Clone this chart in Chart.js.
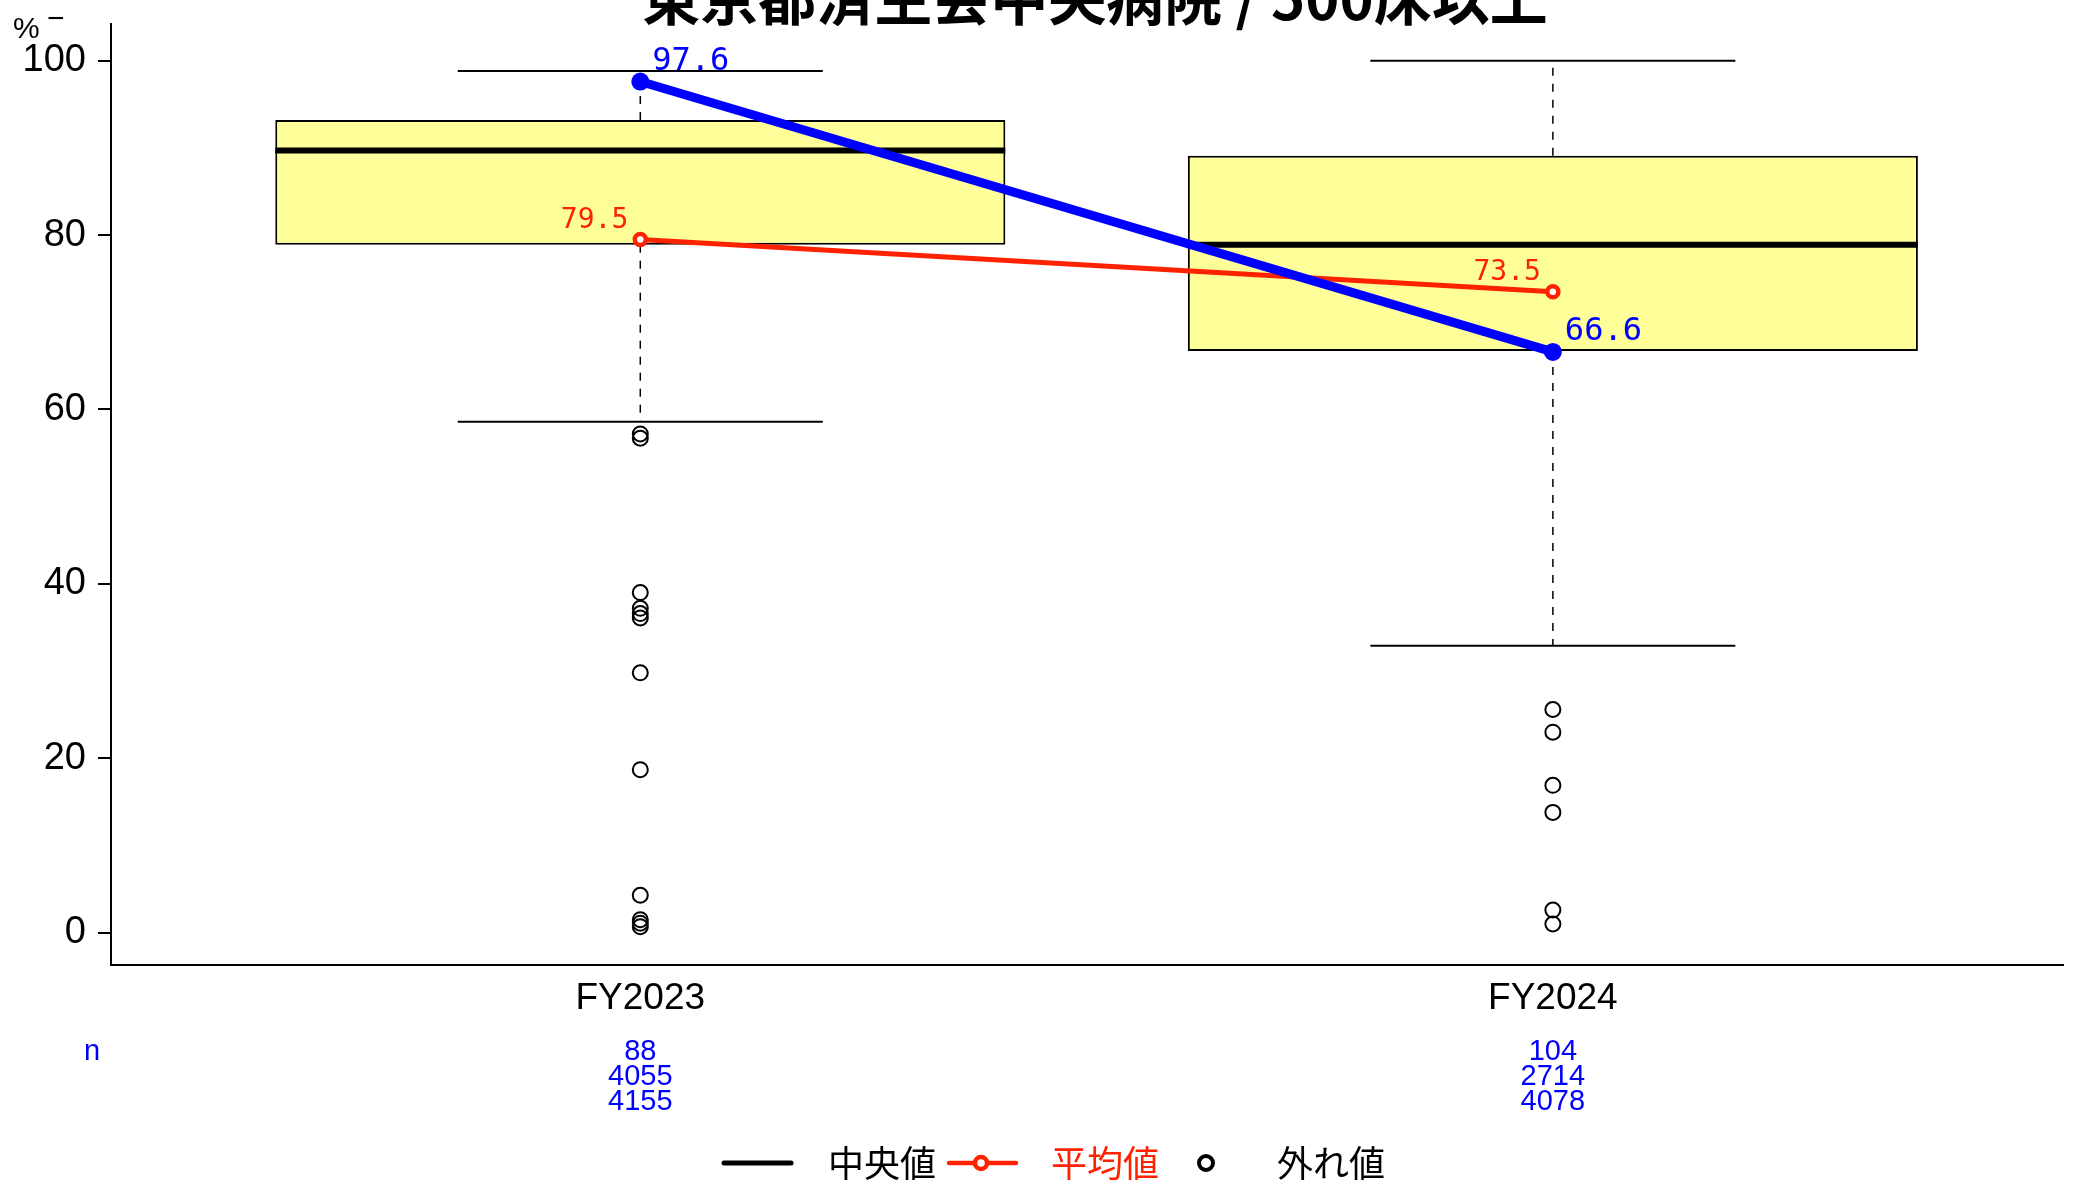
<!DOCTYPE html>
<html>
<head>
<meta charset="utf-8">
<script src="https://cdn.jsdelivr.net/npm/chart.js@4.4.0/dist/chart.umd.min.js"></script>
<style>
  html, body { margin: 0; padding: 0; background: #fff; overflow: hidden; }
  #wrap { width: 2073px; height: 1184px; }
</style>
</head>
<body>
<div id="wrap"><canvas id="chart"></canvas></div>
<script>
// --- data ---
const titleText = '東京都済生会中央病院 / 500床以上';
const categories = ['FY2023', 'FY2024'];
const catPos = [1, 2];
const yTicks = [0, 20, 40, 60, 80, 100];

const whiskerLow = [58.6, 32.9];
const q1 = [78.9, 66.7];
const median = [89.7, 78.9];
const q3 = [93.2, 89.1];
const whiskerHigh = [98.8, 100.0];

const outliers2023 = [57.2, 56.7, 39.0, 37.2, 36.6, 36.1, 29.8, 18.7, 4.3, 1.5, 1.1, 0.7];
const outliers2024 = [25.6, 23.0, 16.9, 13.8, 2.6, 1.0];

const meanValues = [79.5, 73.5];
const hospitalValues = [97.6, 66.6];

const nRow1 = ['88', '104'];
const nRow2 = ['4055', '2714'];
const nRow3 = ['4155', '4078'];

// --- look ---
const BOX_HALF = 0.4;
const CAP_HALF = 0.2;
const SANS = '"Liberation Sans", Arial, sans-serif';
const CJK = '"Noto Sans CJK JP", "Noto Sans", sans-serif';
const MONO = '"DejaVu Sans Mono", monospace';
const RED = '#ff2200';
const BLUE = '#0000ff';

const datasets = [];

// boxes (floating bars q1..q3)
datasets.push({
    type: 'bar',
    data: catPos.map((x, i) => ({ x: x, y: [q1[i], q3[i]] })),
    backgroundColor: '#ffff99',
    borderColor: '#000',
    borderWidth: 2,
    borderSkipped: false,
    barPercentage: 0.8,
    categoryPercentage: 1,
    grouped: false,
    order: 10
});

// medians, whiskers and caps
catPos.forEach((x, i) => {
    const seg = (pts, extra) => Object.assign({
        type: 'line', data: pts, borderColor: '#000', borderWidth: 2,
        pointRadius: 0, fill: false, showLine: true, order: 6
    }, extra || {});
    datasets.push(seg([{ x: x - BOX_HALF, y: median[i] }, { x: x + BOX_HALF, y: median[i] }], { borderWidth: 6, order: 5 }));
    datasets.push(seg([{ x: x, y: q3[i] }, { x: x, y: whiskerHigh[i] }], { borderWidth: 1.5, borderDash: [8, 8] }));
    datasets.push(seg([{ x: x, y: q1[i] }, { x: x, y: whiskerLow[i] }], { borderWidth: 1.5, borderDash: [8, 8] }));
    datasets.push(seg([{ x: x - CAP_HALF, y: whiskerHigh[i] }, { x: x + CAP_HALF, y: whiskerHigh[i] }]));
    datasets.push(seg([{ x: x - CAP_HALF, y: whiskerLow[i] }, { x: x + CAP_HALF, y: whiskerLow[i] }]));
});

// outliers
datasets.push({
    type: 'scatter',
    data: outliers2023.map(v => ({ x: catPos[0], y: v }))
        .concat(outliers2024.map(v => ({ x: catPos[1], y: v }))),
    pointStyle: 'circle',
    pointRadius: 7.5,
    pointBorderWidth: 2,
    pointBorderColor: '#000',
    pointBackgroundColor: 'rgba(255,255,255,0)',
    showLine: false,
    order: 4
});

// mean line
datasets.push({
    type: 'line',
    data: catPos.map((x, i) => ({ x: x, y: meanValues[i] })),
    borderColor: RED,
    borderWidth: 5,
    pointRadius: 5.5,
    pointBorderWidth: 4.5,
    pointBorderColor: RED,
    pointBackgroundColor: '#fff',
    fill: false,
    showLine: true,
    order: 2
});

// hospital line
datasets.push({
    type: 'line',
    data: catPos.map((x, i) => ({ x: x, y: hospitalValues[i] })),
    borderColor: BLUE,
    borderWidth: 9,
    pointRadius: 9,
    pointBorderWidth: 0,
    pointBackgroundColor: BLUE,
    fill: false,
    showLine: true,
    order: 1
});

const meanIndex = datasets.length - 2;
const hospIndex = datasets.length - 1;

const annotate = {
    id: 'annotate',
    afterDatasetsDraw(chart) {
        const ctx = chart.ctx;
        ctx.save();
        ctx.textBaseline = 'middle';

        // mean labels: left of the point
        ctx.font = '28px ' + MONO;
        ctx.fillStyle = RED;
        ctx.textAlign = 'right';
        chart.getDatasetMeta(meanIndex).data.forEach((pt, i) => {
            ctx.fillText(meanValues[i].toFixed(1), pt.x - 12, pt.y - 19);
        });

        // hospital labels: right of the point
        ctx.font = '32px ' + MONO;
        ctx.fillStyle = BLUE;
        ctx.textAlign = 'left';
        chart.getDatasetMeta(hospIndex).data.forEach((pt, i) => {
            ctx.fillText(hospitalValues[i].toFixed(1), pt.x + 12, pt.y - 20);
        });
        ctx.restore();
    },
    afterDraw(chart) {
        const ctx = chart.ctx;
        const area = chart.chartArea;
        const xs = chart.scales.x;
        ctx.save();

        // title (runs off the top edge like the original)
        ctx.font = 'bold 58px ' + CJK;
        ctx.fillStyle = '#000';
        ctx.textAlign = 'center';
        ctx.textBaseline = 'alphabetic';
        ctx.fillText(titleText, (area.left + area.right) / 2 + 8, 20);

        // unit
        ctx.font = '30px ' + SANS;
        ctx.textAlign = 'left';
        ctx.textBaseline = 'middle';
        ctx.fillText('%', 13, 30);
        ctx.fillText('−', 47, 20);

        // n counts
        ctx.fillStyle = BLUE;
        ctx.font = '29px ' + SANS;
        ctx.textAlign = 'center';
        ctx.fillText('n', 92, 1052);
        catPos.forEach((x, i) => {
            const px = xs.getPixelForValue(x);
            ctx.fillText(nRow1[i], px, 1052);
            ctx.fillText(nRow2[i], px, 1077);
            ctx.fillText(nRow3[i], px, 1102);
        });

        // legend
        const ly = 1163;
        ctx.font = '36px ' + CJK;
        ctx.textAlign = 'left';
        ctx.lineCap = 'round';

        ctx.strokeStyle = '#000';
        ctx.lineWidth = 5;
        ctx.beginPath(); ctx.moveTo(724, ly); ctx.lineTo(791, ly); ctx.stroke();
        ctx.fillStyle = '#000';
        ctx.fillText('中央値', 828, ly);

        ctx.strokeStyle = RED;
        ctx.lineWidth = 4.5;
        ctx.beginPath(); ctx.moveTo(949, ly); ctx.lineTo(1016, ly); ctx.stroke();
        ctx.fillStyle = '#fff';
        ctx.beginPath(); ctx.arc(981, ly, 6, 0, Math.PI * 2); ctx.fill(); ctx.stroke();
        ctx.fillStyle = RED;
        ctx.fillText('平均値', 1051, ly);

        ctx.strokeStyle = '#000';
        ctx.lineWidth = 4;
        ctx.beginPath(); ctx.arc(1206, ly, 7, 0, Math.PI * 2); ctx.stroke();
        ctx.fillStyle = '#000';
        ctx.fillText('外れ値', 1277, ly);

        ctx.restore();
    }
};

new Chart(document.getElementById('chart'), {
    type: 'scatter',
    data: { datasets: datasets },
    options: {
        responsive: true,
        maintainAspectRatio: false,
        animation: false,
        layout: { padding: { top: 24, left: 0, right: 0, bottom: 0 } },
        plugins: { legend: { display: false }, tooltip: { enabled: false } },
        scales: {
            x: {
                type: 'linear',
                offset: false,
                min: 0.42,
                max: 2.559,
                afterBuildTicks: s => { s.ticks = catPos.map(v => ({ value: v })); },
                afterFit: s => { s.height = 219; },
                grid: { drawOnChartArea: false, drawTicks: false },
                border: { display: true, color: '#000', width: 2 },
                ticks: {
                    padding: 12,
                    color: '#000',
                    maxRotation: 0,
                    autoSkip: false,
                    font: { family: SANS, size: 37 },
                    callback: v => categories[catPos.indexOf(v)]
                }
            },
            y: {
                min: -3.7,
                max: 104.2,
                afterBuildTicks: s => { s.ticks = yTicks.map(v => ({ value: v })); },
                afterFit: s => { s.width = 111; },
                grid: { drawOnChartArea: false, drawTicks: true, tickLength: 13, color: '#000', lineWidth: 2 },
                border: { display: true, color: '#000', width: 2 },
                ticks: {
                    padding: 12,
                    color: '#000',
                    font: { family: SANS, size: 38, lineHeight: 0.6 }
                }
            }
        }
    },
    plugins: [annotate]
});
</script>
</body>
</html>
